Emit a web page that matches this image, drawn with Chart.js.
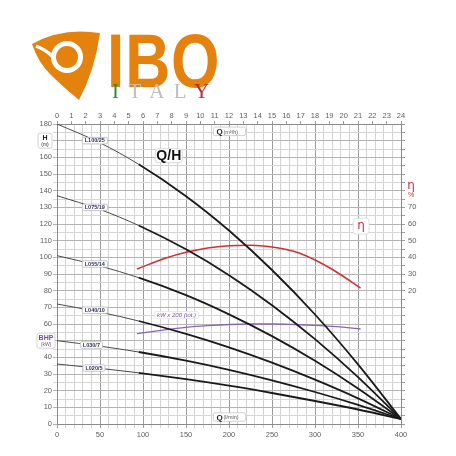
<!DOCTYPE html>
<html>
<head>
<meta charset="utf-8">
<script src="https://cdn.jsdelivr.net/npm/chart.js@4.4.1/dist/chart.umd.min.js"></script>
<style>
  html, body { margin: 0; padding: 0; background: #fff; }
  #wrap { position: relative; width: 456px; height: 456px; overflow: hidden; }
  #wrap canvas { position: absolute; left: 0; top: 0; }
  #emblem { position: absolute; left: 0; top: 0; }
  #ibo {
    position: absolute; left: 107px; top: 16px;
    font-family: "Liberation Sans", Arial, sans-serif; font-weight: bold;
    font-size: 76px; line-height: 90px; color: #e5820e;
    transform: scaleX(0.82); transform-origin: left top; letter-spacing: 1px;
  }
  #italy {
    position: absolute; left: 112px; top: 79px;
    font-family: "Liberation Serif", serif; font-size: 21px; line-height: 24px;
    letter-spacing: 9.5px; color: #bdbdbd;
  }
  #italy .g { color: #2f8a3c; }
  #italy .r { color: #c0262c; }
</style>
</head>
<body>
<div id="wrap">
  <canvas id="chart" width="456" height="456"></canvas>
  <svg id="emblem" width="110" height="110" viewBox="0 0 110 110">
    <path d="M32,44 Q62,27 100,33 Q95,70 79,100 Q62,86 50,74 Q38,62 32,44 Z" fill="#e5820e"/>
    <circle cx="67" cy="57" r="16" fill="#fff"/>
    <circle cx="67" cy="57" r="11" fill="#e5820e"/>
    <path d="M36,46 Q46,50 52,56" stroke="#fff" stroke-width="3.5" fill="none"/>
  </svg>
  <div id="ibo">IBO</div>
  <div id="italy"><span class="g">I</span>TAL<span class="r">Y</span></div>
</div>
<script>
// flow (l/min) where the pump curves were read
const qFlow = [0, 50, 95, 150, 200, 250, 300, 350, 400];

// head (m) for each pump
const hL100 = [180, 168.7, 155.8, 136.7, 116.1, 92.4, 65.7, 35.8, 3];
const hL075 = [137, 128.7, 119.1, 104.8, 89.3, 71.3, 50.9, 28.1, 3];
const hL055 = [101, 94.8, 87.8, 77.3, 65.8, 52.7, 37.9, 21.3, 3];
const hL040 = [72, 67.1, 61.8, 54.1, 46, 36.8, 26.6, 15.4, 3];
const hL030 = [50, 46.7, 43.2, 38, 32.5, 26.2, 19.2, 11.5, 3];
const hL020 = [36, 33.4, 30.7, 26.9, 23, 18.6, 13.8, 8.7, 3];

const pumpNames = ['L100/25', 'L075/19', 'L055/14', 'L040/10', 'L030/7', 'L020/5'];
const pumpHeads = [hL100, hL075, hL055, hL040, hL030, hL020];

// efficiency (%) and total power x 200
const qEff = [93, 125, 150, 175, 200, 225, 250, 275, 300, 325, 353];
const effPct = [33, 39.3, 43, 45.6, 47, 47.3, 46.2, 43.6, 38.4, 31.2, 21.5];
const kwX200 = [54.2, 56.5, 58, 59, 59.7, 60, 60, 59.7, 59.2, 58.4, 57];

// tick labels
const etaTicks = [20, 30, 40, 50, 60, 70];

const tickFont = { family: 'Liberation Sans', size: 7.5 };
const tickColor = '#5e5e5e';

function pts(xs, ys) {
    return xs.map((q, i) => ({ x: q, y: ys[i] }));
}

const pumpSets = pumpHeads.map((h, i) => ({
    label: pumpNames[i],
    data: pts(qFlow, h),
    borderColor: '#1a1a1a',
    borderWidth: 1.8,
    pointRadius: 0,
    cubicInterpolationMode: 'monotone',
    segment: {
        borderWidth: c => c.p0.parsed.x < 90 ? 1 : 1.8,
        borderColor: c => c.p0.parsed.x < 90 ? '#4a4a4a' : '#1a1a1a'
    }
}));

function roundBox(ctx, cx, cy, w, h, r, stroke) {
    const x = cx - w / 2, y = cy - h / 2;
    ctx.beginPath();
    ctx.roundRect(x, y, w, h, r);
    ctx.fillStyle = '#fff';
    ctx.fill();
    ctx.strokeStyle = stroke;
    ctx.lineWidth = 0.8;
    ctx.stroke();
}

// text notes on and around the plot
const notesPlugin = {
    id: 'notes',
    afterDatasetsDraw(chart) {
        const { ctx, scales } = chart;
        const x = scales.x, y = scales.y;
        ctx.save();
        ctx.textAlign = 'center';
        ctx.textBaseline = 'middle';

        // curve names
        const spots = [[44, 170], [44, 130], [44, 96], [44, 68.3], [40, 47.4], [43, 33.6]];
        ctx.font = 'bold 5.5px "Liberation Sans"';
        pumpNames.forEach((name, i) => {
            const px = x.getPixelForValue(spots[i][0]);
            const py = y.getPixelForValue(spots[i][1]);
            const w = ctx.measureText(name).width + 5;
            roundBox(ctx, px, py, w, 6.5, 1.5, '#b8b8b8');
            ctx.fillStyle = '#2c3350';
            ctx.fillText(name, px, py + 0.3);
        });

        // Q/H
        let px = x.getPixelForValue(130), py = y.getPixelForValue(161);
        roundBox(ctx, px, py, 27, 14, 3, '#d0d0d0');
        ctx.font = 'bold 14px "Liberation Sans"';
        ctx.fillStyle = '#111';
        ctx.fillText('Q/H', px, py + 0.5);

        // eta
        px = x.getPixelForValue(353.6); py = y.getPixelForValue(118.7);
        roundBox(ctx, px, py, 16, 16, 3, '#d8d8d8');
        ctx.font = '12px "DejaVu Sans"';
        ctx.fillStyle = '#c0303a';
        ctx.fillText('η', px, py);

        // kW x 200
        px = x.getPixelForValue(139); py = y.getPixelForValue(65.3);
        roundBox(ctx, px, py, 44, 7, 1.5, '#e2e2e2');
        ctx.font = 'italic 6px "Liberation Sans"';
        ctx.fillStyle = '#6b4e96';
        ctx.fillText('kW x 200 (tot.)', px, py + 0.3);

        // Q boxes
        const qBox = (val, unit) => {
            const bx = x.getPixelForValue(200.5), by = y.getPixelForValue(val);
            roundBox(ctx, bx, by, 32, 8.5, 1.5, '#c8c8c8');
            ctx.textAlign = 'left';
            ctx.font = 'bold 8px "Liberation Sans"';
            ctx.fillStyle = '#222';
            ctx.fillText('Q', bx - 13, by + 0.5);
            ctx.font = '5.5px "Liberation Sans"';
            ctx.fillStyle = '#555';
            ctx.fillText(unit, bx - 6, by + 0.8);
            ctx.textAlign = 'center';
        };
        qBox(175.6, '(m³/h)');
        qBox(4.2, '(l/min)');
        ctx.restore();
    },
    afterDraw(chart) {
        const { ctx, scales } = chart;
        const y = scales.y, y2 = scales.y2;
        const left = chart.chartArea.left, right = chart.chartArea.right;
        ctx.save();
        ctx.textAlign = 'center';
        ctx.textBaseline = 'middle';

        // H (m)
        let cy = y.getPixelForValue(170);
        roundBox(ctx, left - 12, cy, 14, 15, 2, '#c8c8c8');
        ctx.font = 'bold 7px "Liberation Sans"';
        ctx.fillStyle = '#222';
        ctx.fillText('H', left - 12, cy - 3);
        ctx.font = '5px "Liberation Sans"';
        ctx.fillText('(m)', left - 12, cy + 3.5);

        // BHP (kW)
        cy = y.getPixelForValue(50);
        roundBox(ctx, left - 11, cy, 18, 15, 2, '#c8c8c8');
        ctx.font = 'bold 7px "Liberation Sans"';
        ctx.fillStyle = '#6b4e96';
        ctx.fillText('BHP', left - 11, cy - 3);
        ctx.font = '5px "Liberation Sans"';
        ctx.fillText('(kW)', left - 11, cy + 3.5);

        // eta %
        cy = y2.getPixelForValue(83);
        ctx.font = '12px "DejaVu Sans"';
        ctx.fillStyle = '#c0303a';
        ctx.fillText('η', right + 10, cy);
        ctx.font = '7px "Liberation Sans"';
        ctx.fillText('%', right + 10, cy + 9);
        ctx.restore();
    }
};

new Chart(document.getElementById('chart'), {
    type: 'line',
    data: {
        datasets: [
            ...pumpSets,
            {
                label: 'η',
                data: pts(qEff, effPct),
                yAxisID: 'y2',
                borderColor: '#cf3035',
                borderWidth: 1.5,
                pointRadius: 0,
                cubicInterpolationMode: 'monotone'
            },
            {
                label: 'kW x 200 (tot.)',
                data: pts(qEff, kwX200),
                borderColor: '#8767ad',
                borderWidth: 1.3,
                pointRadius: 0,
                cubicInterpolationMode: 'monotone'
            }
        ]
    },
    options: {
        responsive: false,
        animation: false,
        layout: { padding: { top: 108, left: 0, right: 0, bottom: 0 } },
        plugins: { legend: { display: false }, tooltip: { enabled: false } },
        scales: {
            x: {
                type: 'linear', position: 'bottom', min: 0, max: 400,
                afterFit: s => { s.height = 32; },
                ticks: {
                    stepSize: 10, autoSkip: false, maxRotation: 0, padding: 2,
                    font: tickFont, color: tickColor,
                    callback: v => v % 50 === 0 ? v : ''
                },
                grid: {
                    color: c => c.tick && c.tick.value % 50 === 0 ? '#9c9c9c' : '#d2d2d2',
                    tickLength: 4
                },
                border: { color: '#8a8a8a' }
            },
            x2: {
                type: 'linear', position: 'top', min: 0, max: 24,
                afterFit: s => { s.height = 16; },
                ticks: { stepSize: 1, autoSkip: false, maxRotation: 0, padding: 1, font: tickFont, color: tickColor },
                grid: { drawOnChartArea: false, tickLength: 3, color: '#9c9c9c' },
                border: { color: '#8a8a8a' }
            },
            y: {
                min: 0, max: 180,
                afterFit: s => { s.width = 57; },
                ticks: {
                    stepSize: 5, autoSkip: false, padding: 1,
                    font: tickFont, color: tickColor,
                    callback: v => v % 10 === 0 ? v : ''
                },
                grid: {
                    color: c => c.tick && c.tick.value % 10 === 0 ? '#b4b4b4' : '#d6d6d6',
                    tickLength: 4
                },
                border: { color: '#8a8a8a' }
            },
            y2: {
                position: 'right', min: -60, max: 120,
                afterFit: s => { s.width = 55; },
                ticks: {
                    stepSize: 5, autoSkip: false, padding: 3,
                    font: tickFont, color: tickColor,
                    callback: v => etaTicks.includes(v) ? v : ''
                },
                grid: { drawOnChartArea: false, tickLength: 4, color: '#9c9c9c' },
                border: { color: '#8a8a8a' }
            }
        }
    },
    plugins: [notesPlugin]
});
</script>
</body>
</html>
